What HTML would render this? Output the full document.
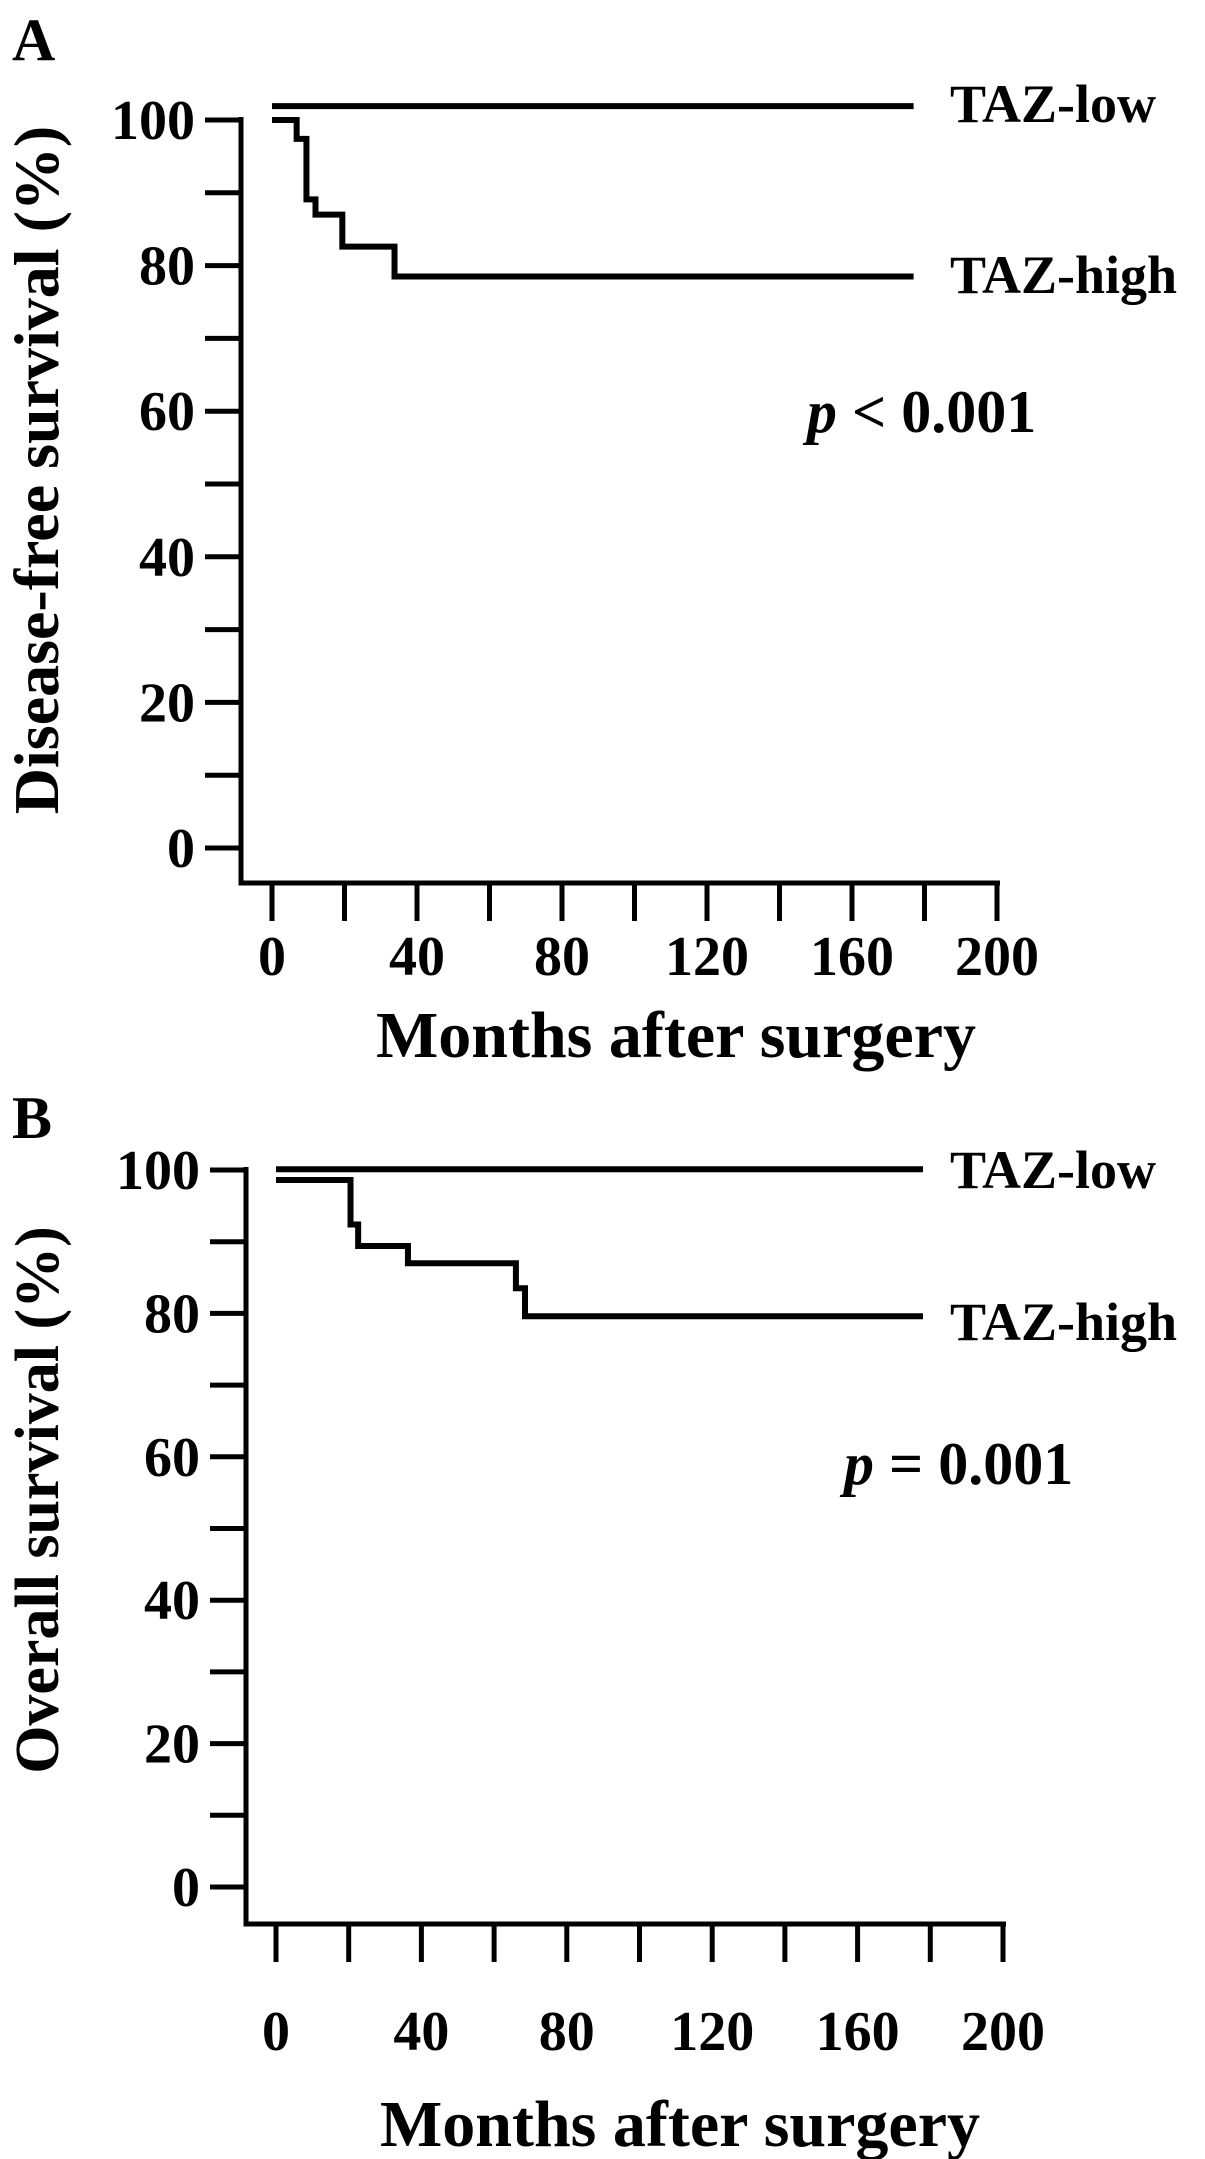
<!DOCTYPE html>
<html><head><meta charset="utf-8"><style>
html,body{margin:0;padding:0;background:#fff;}
svg{display:block;font-family:"Liberation Serif","Times New Roman",serif;font-weight:bold;}
</style></head><body>
<svg id="fig" width="1205" height="2159" viewBox="0 0 1205 2159"></svg>
<script>
// Panel A data (disease-free survival)
const xTicks = [0, 40, 80, 120, 160, 200];
const yTicks = [0, 20, 40, 60, 80, 100];
const aLowTimes = [0, 177];
const aLowVals = [101.9, 101.9];
const aHighTimes = [0, 6.8, 9.5, 12, 19.4, 33.8, 177];
const aHighVals = [100, 97.4, 89.1, 87, 82.6, 78.5, 78.5];
// Panel B data (overall survival)
const bLowTimes = [0, 178];
const bLowVals = [100.1, 100.1];
const bHighTimes = [0, 20.5, 22.6, 36.3, 66, 68.5, 178];
const bHighVals = [98.6, 92.4, 89.4, 87, 83.5, 79.6, 79.6];

const NS = "http://www.w3.org/2000/svg";
const svg = document.getElementById('fig');
function mk(tag, attrs, parent) {
  const e = document.createElementNS(NS, tag);
  for (const k in attrs) e.setAttribute(k, attrs[k]);
  (parent || svg).appendChild(e);
  return e;
}
function panel(cfg) {
  const g = mk('g', {});
  
  
  const sx = t => cfg.x0 + (t / 200) * (cfg.x200 - cfg.x0);
  const sy = v => cfg.y0 - (v / 100) * (cfg.y0 - cfg.y100);
  let t = mk('text', {x: 12, y: cfg.letterY, 'font-size': 60}, g);
  t.textContent = cfg.letter;
  
  
  let ax = mk('path', {d: `M${cfg.axX},${cfg.y100 - 3} V${cfg.axY} H${cfg.x200 + 3}`, stroke: '#000', 'stroke-width': 5, fill: 'none'}, g);
  
  
  for (let v = 0; v <= 100; v += 10) {
    const tk = mk('line', {x1: cfg.axX - 36, x2: cfg.axX, y1: sy(v), y2: sy(v), stroke: '#000', 'stroke-width': 5}, g);
    
    
  }
  yTicks.forEach(v => {
    const l = mk('text', {x: cfg.axX - 46, y: sy(v) + 19, 'font-size': 56, 'text-anchor': 'end'}, g);
    l.textContent = v;
    
    
  });
  for (let m = 0; m <= 200; m += 20) {
    const tk = mk('line', {x1: sx(m), x2: sx(m), y1: cfg.axY, y2: cfg.axY + 38, stroke: '#000', 'stroke-width': 5}, g);
    
    
  }
  xTicks.forEach(m => {
    const l = mk('text', {x: sx(m), y: cfg.xLabY, 'font-size': 56, 'text-anchor': 'middle'}, g);
    l.textContent = m;
    
    
  });
  const xt = mk('text', {x: cfg.xTitleX, y: cfg.xTitleY, 'font-size': 66, 'text-anchor': 'middle'}, g);
  xt.textContent = 'Months after surgery';
  
  
  const yt = mk('text', {x: 0, y: 0, 'font-size': cfg.yTitleSize, 'text-anchor': 'middle', transform: `translate(${cfg.yTitleX},${cfg.yTitleY}) rotate(-90)`}, g);
  yt.textContent = cfg.yTitle;
  
  
  function step(times, vals, name) {
    let d = `M${sx(times[0])},${sy(vals[0])}`;
    for (let i = 1; i < times.length; i++) {
      d += ` H${sx(times[i])} V${sy(vals[i])}`;
    }
    const p = mk('path', {d: d, stroke: '#000', 'stroke-width': 6, fill: 'none'}, g);
    
    
  }
  step(cfg.lowT, cfg.lowV, 'taz-low-curve');
  step(cfg.highT, cfg.highV, 'taz-high-curve');
  const l1 = mk('text', {x: cfg.labX, y: cfg.lowLabY, 'font-size': 54}, g);
  l1.textContent = 'TAZ-low';
  
  
  const l2 = mk('text', {x: cfg.labX, y: cfg.highLabY, 'font-size': 54}, g);
  l2.textContent = 'TAZ-high';
  
  
  const pv = mk('text', {x: cfg.pX, y: cfg.pY, 'font-size': 60}, g);
  const it = mk('tspan', {'font-style': 'italic'}, pv);
  it.textContent = 'p';
  const rest = mk('tspan', {}, pv);
  rest.textContent = cfg.pText;
  
  
}
panel({name: 'panel-a', letter: 'A', letterY: 60, axX: 241, axY: 883, x0: 272, x200: 997, y0: 848, y100: 120,
  xLabY: 975, xTitleX: 676, xTitleY: 1057, yTitle: 'Disease-free survival (%)', yTitleSize: 64, yTitleX: 58, yTitleY: 470,
  lowT: aLowTimes, lowV: aLowVals, highT: aHighTimes, highV: aHighVals,
  labX: 950, lowLabY: 122, highLabY: 293, pX: 807, pY: 432, pText: ' < 0.001'});
panel({name: 'panel-b', letter: 'B', letterY: 1138, axX: 246, axY: 1924, x0: 276, x200: 1003, y0: 1887, y100: 1170,
  xLabY: 2050, xTitleX: 680, xTitleY: 2146, yTitle: 'Overall survival (%)', yTitleSize: 62, yTitleX: 58, yTitleY: 1500,
  lowT: bLowTimes, lowV: bLowVals, highT: bHighTimes, highV: bHighVals,
  labX: 950, lowLabY: 1188, highLabY: 1340, pX: 844, pY: 1484, pText: ' = 0.001'});
</script>
</body></html>
